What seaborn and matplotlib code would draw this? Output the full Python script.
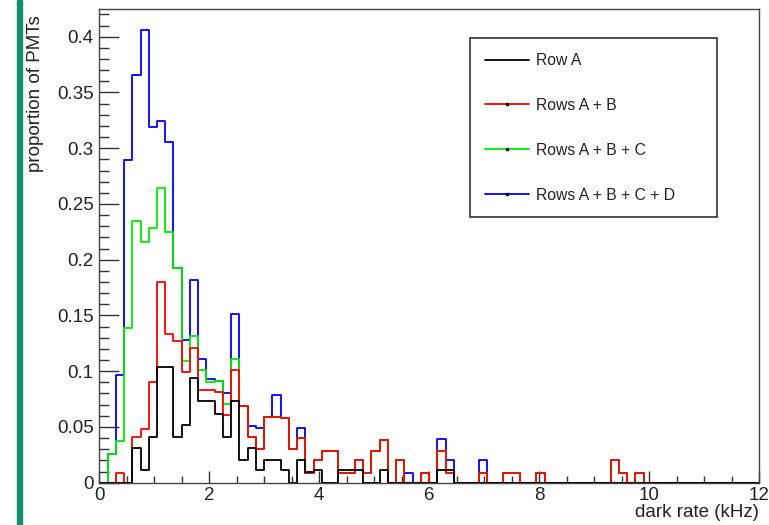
import numpy as np
import pandas as pd
import matplotlib
matplotlib.use("Agg")
import matplotlib.pyplot as plt
from matplotlib.lines import Line2D
from matplotlib.patches import Rectangle
from matplotlib.ticker import MultipleLocator, FuncFormatter
import seaborn as sns

sns.set_theme(style="white")
plt.rcParams["font.family"] = ["Liberation Sans", "DejaVu Sans"]

# histogram binning: 80 bins of 0.15 kHz between 0 and 12 kHz
bin_edges = np.linspace(0, 12, 81).tolist()

# proportion of PMTs per bin
row_a = [
    0, 0, 0, 0, 0.031, 0.011, 0.041, 0.104, 0.104, 0.041,
    0.052, 0.094, 0.0735, 0.0735, 0.062, 0.041, 0.0735, 0.0205, 0.031, 0.011,
    0.0205, 0.0205, 0.011, 0, 0.0205, 0.010, 0.011, 0, 0, 0.011,
    0.011, 0.011, 0, 0, 0.011, 0, 0, 0, 0, 0,
    0, 0.011, 0.011, 0, 0, 0, 0, 0, 0, 0,
    0, 0, 0, 0, 0, 0, 0, 0, 0, 0,
    0, 0, 0, 0, 0, 0, 0, 0, 0, 0,
    0, 0, 0, 0, 0, 0, 0, 0, 0, 0,
]
rows_ab = [
    0, 0, 0.009, 0, 0.041, 0.048, 0.090, 0.180, 0.133, 0.127,
    0.099, 0.121, 0.083, 0.083, 0.081, 0.061, 0.101, 0.069, 0.041, 0.030,
    0.059, 0.059, 0.058, 0.030, 0.040, 0.009, 0.020, 0.028, 0.028, 0.009,
    0.009, 0.020, 0.009, 0.028, 0.038, 0, 0.020, 0, 0, 0.009,
    0, 0.028, 0.009, 0, 0, 0, 0.009, 0, 0, 0.009,
    0.009, 0, 0, 0.009, 0, 0, 0, 0, 0, 0,
    0, 0, 0.020, 0.009, 0, 0.009, 0, 0, 0, 0,
    0, 0, 0, 0, 0, 0, 0, 0, 0, 0,
]
rows_abc = [
    0, 0.026, 0.037, 0.139, 0.235, 0.216, 0.228, 0.264, 0.225, 0.193,
    0.109, 0.132, 0.101, 0.090, 0.091, 0.071, 0.111, 0.069, 0.041, 0.030,
    0.059, 0.059, 0.058, 0.030, 0.040, 0.009, 0.020, 0.028, 0.028, 0.009,
    0.009, 0.020, 0.009, 0.028, 0.038, 0, 0.020, 0, 0, 0.009,
    0, 0.028, 0.009, 0, 0, 0, 0.009, 0, 0, 0.009,
    0.009, 0, 0, 0.009, 0, 0, 0, 0, 0, 0,
    0, 0, 0.020, 0.009, 0, 0.009, 0, 0, 0, 0,
    0, 0, 0, 0, 0, 0, 0, 0, 0, 0,
]
rows_abcd = [
    0, 0.026, 0.097, 0.289, 0.366, 0.406, 0.319, 0.324, 0.306, 0.193,
    0.128, 0.182, 0.111, 0.093, 0.091, 0.080, 0.151, 0.069, 0.051, 0.049,
    0.059, 0.079, 0.058, 0.030, 0.049, 0.009, 0.020, 0.028, 0.028, 0.009,
    0.009, 0.020, 0.009, 0.028, 0.038, 0, 0.020, 0.009, 0, 0.009,
    0, 0.039, 0.020, 0, 0, 0, 0.020, 0, 0, 0.009,
    0.009, 0, 0, 0.009, 0, 0, 0, 0, 0, 0,
    0, 0, 0.020, 0.009, 0, 0.009, 0, 0, 0, 0,
    0, 0, 0, 0, 0, 0, 0, 0, 0, 0,
]

labels = ["Row A", "Rows A + B", "Rows A + B + C", "Rows A + B + C + D"]
colors = ["#000000", "#ff0000", "#00ee00", "#0000ff"]
series = [row_a, rows_ab, rows_abc, rows_abcd]

centers = [(a + b) / 2 for a, b in zip(bin_edges[:-1], bin_edges[1:])]

fig = plt.figure(figsize=(7.69, 5.25), dpi=100)
ax = fig.add_axes([0.1291, 0.0806, 0.8579, 0.9017])

# draw widest first so Row A ends on top (ROOT "same" order)
for i in [3, 2, 1, 0]:
    df = pd.DataFrame({"rate": centers, "prop": series[i]})
    sns.histplot(data=df, x="rate", weights="prop", bins=bin_edges, element="step",
                 fill=False, color=colors[i], linewidth=1.3, ax=ax, zorder=2 + (3 - i))

ax.set_xlim(0, 12)
ax.set_ylim(0, 0.4246)

ax.xaxis.set_major_locator(MultipleLocator(2))
ax.xaxis.set_minor_locator(MultipleLocator(0.5))
ax.yaxis.set_major_locator(MultipleLocator(0.05))
ax.yaxis.set_minor_locator(MultipleLocator(0.01))
ax.yaxis.set_major_formatter(FuncFormatter(lambda v, p: "%g" % round(v, 3)))
ax.tick_params(which="both", direction="in", color="#333333", width=1.0,
               labelsize=13.5, labelcolor="#222222",
               bottom=True, left=True, top=False, right=False)
ax.tick_params(axis="x", which="major", length=8.6, pad=3)
ax.tick_params(axis="x", which="minor", length=5)
ax.tick_params(axis="y", which="major", length=14.4, pad=4)
ax.tick_params(axis="y", which="minor", length=7.2)

for s in ax.spines.values():
    s.set_visible(True)
    s.set_color("#444444")
    s.set_linewidth(1.0)

ax.set_xlabel("dark rate (kHz)", loc="right", fontsize=13.5, color="#222222", labelpad=0)
ax.set_ylabel("proportion of PMTs", loc="top", fontsize=13.5, color="#222222")
ax.yaxis.set_label_coords(-0.084, 0.988, transform=ax.transAxes)

handles = []
for i, c in enumerate(colors):
    if i == 0:
        handles.append(Line2D([], [], color=c, lw=1.3))
    else:
        handles.append(Line2D([], [], color=c, lw=1.3, marker="s", markersize=1.5,
                              markerfacecolor="black", markeredgecolor="black"))
leg = ax.legend(handles, labels, loc="upper left", bbox_to_anchor=(0.562, 0.939, 0.374, 0),
                mode="expand", fontsize=11.3, frameon=True, fancybox=False, framealpha=1,
                edgecolor="#333333", borderpad=0.95, labelspacing=1.9,
                handlelength=2.8, handletextpad=0.45, borderaxespad=0)
leg.get_frame().set_linewidth(1.2)
for t in leg.get_texts():
    t.set_color("#222222")

# green strip on the left edge of the slide
fig.add_artist(Rectangle((17 / 769, 0), 5 / 769, 1, transform=fig.transFigure,
                         color="#13906a", zorder=0))

fig.savefig("out.png", dpi=100)
